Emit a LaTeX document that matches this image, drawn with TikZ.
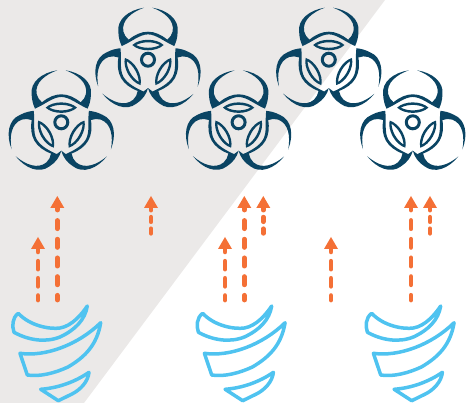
\documentclass[tikz,border=0pt]{standalone}
\definecolor{bgrey}{HTML}{EBE9E8}
\definecolor{navy}{HTML}{0A4463}
\definecolor{flame}{HTML}{F47036}
\definecolor{sky}{HTML}{4FC3F0}
\newcommand{\cornerL}{.. controls (-88,72) and (-84,62) .. (-79,50) .. controls (-50,62) and (-25,85) .. (0,85)}
\newcommand{\apexL}{.. controls (-88,70) and (-80,52) .. (-66,38) .. controls (-67,44) and (-67,49) .. (-68,55) .. controls (-50,68) and (-24,85) .. (0,85)}
\newcommand{\cornerR}{.. controls (25,85) and (50,62) .. (79,50) .. controls (84,62) and (88,72) .. (89,92)}
\newcommand{\apexR}{.. controls (24,85) and (50,68) .. (68,55) .. controls (67,49) and (67,44) .. (66,38) .. controls (80,52) and (88,70) .. (89,92)}
\newcommand{\armshape}[2]{%
    \fill[navy]
      (-12,165) .. controls (-58,158) and (-94,130) .. (-89,92)
      #1 #2
      .. controls (94,130) and (58,158) .. (13,165)
      .. controls (48,152) and (80,128) .. (74,94)
      .. controls (72,84) and (66,76) .. (58,69)
      .. controls (40,84) and (20,93) .. (0,93)
      .. controls (-20,93) and (-40,84) .. (-58,69)
      .. controls (-66,76) and (-72,84) .. (-74,94)
      .. controls (-80,128) and (-48,152) .. (-12,165) -- cycle;
    \fill[navy,even odd rule]
      (-47,53) .. controls (-25,74) and (25,74) .. (47,53)
      .. controls (25,32) and (-25,32) .. (-47,53) -- cycle
      (-36,53) .. controls (-15,64) and (15,64) .. (36,53)
      .. controls (15,42) and (-15,42) .. (-36,53) -- cycle;
}
\tikzset{
  x=1pt,y=-1pt,
  stemlong/.style={draw=flame,line width=4.8pt,line cap=round,dash pattern=on 8.2pt off 10.5pt},
  stemmid/.style={draw=flame,line width=4.8pt,line cap=round,dash pattern=on 7.9pt off 9.3pt},
  stemshort/.style={draw=flame,line width=4.8pt,line cap=round,dash pattern=on 4.5pt off 7.1pt},
  headtri/.style={fill=flame},
  blade/.style={draw=sky,line width=3.5pt,line join=round},
  biohazard/.pic={
    \begin{scope}[x=0.3333pt,y=0.3333pt]
      \armshape{\cornerL}{\cornerR}
      \begin{scope}[rotate=120]\armshape{\apexL}{\cornerR}\end{scope}
      \begin{scope}[rotate=240]\armshape{\cornerL}{\apexR}\end{scope}
      \draw[navy,line width=3pt] (0,9) circle[radius=19.5];
    \end{scope}
  },
  bladeset/.pic={
    \draw[blade] (18.3,13.3) .. controls (30,26) and (50,29.5) .. (60,28)
      .. controls (72,26) and (82,14) .. (87.3,6)
      .. controls (85,20) and (75,30) .. (60,37)
      .. controls (45,43) and (28,40) .. (14,32.3)
      .. controls (12,26) and (12,18) .. (18.3,13.3) -- cycle;
    \draw[blade] (20,53.3) .. controls (45,57) and (78,45) .. (100.7,22.7)
      .. controls (97,45) and (85,57) .. (68,67)
      .. controls (55,73) and (40,77) .. (27.3,75)
      -- cycle;
    \draw[blade] (40.7,89.3) .. controls (58,88) and (75,82) .. (89,72.3)
      .. controls (88,82) and (80,90) .. (72,94)
      -- (58.3,100.7) -- cycle;
  }
}
\newcommand{\upflow}[6]{%
  \coordinate (#1tip) at (#2,#3);
  \coordinate (#1top) at (#2,#4);
  \coordinate (#1tail) at (#2,#5);
  \draw[#6] (#1top) -- (#1tail);
  \fill[headtri] (#1tip) -- ++(7,12) -- ++(-14,0) -- cycle;
}
\begin{document}
\begin{tikzpicture}
\useasboundingbox (0,0) rectangle (467,403);
\fill[bgrey] (0,0) -- (385,0) -- (84,403) -- (0,403) -- cycle;
\pic at (61.3,125.3) {biohazard};
\pic at (148,62.7) {biohazard};
\pic at (238.6,125.3) {biohazard};
\pic at (328.8,62.7) {biohazard};
\pic at (412.8,125.3) {biohazard};
\upflow{a}{38}{237}{244}{300}{stemmid}
\upflow{b}{57.3}{196}{201.8}{300}{stemlong}
\upflow{c}{151}{196}{205.6}{233.5}{stemshort}
\upflow{d}{225}{237}{244}{300}{stemmid}
\upflow{e}{244.3}{196}{201.8}{300}{stemlong}
\upflow{f}{263.3}{196}{205.6}{233.5}{stemshort}
\upflow{g}{331}{237}{244}{300}{stemmid}
\upflow{h}{411}{196}{201.8}{300}{stemlong}
\upflow{i}{430}{196}{205.6}{233.5}{stemshort}
\pic at (0,300) {bladeset};
\pic at (184.4,300) {bladeset};
\pic at (353.4,300) {bladeset};
\end{tikzpicture}
\end{document}
